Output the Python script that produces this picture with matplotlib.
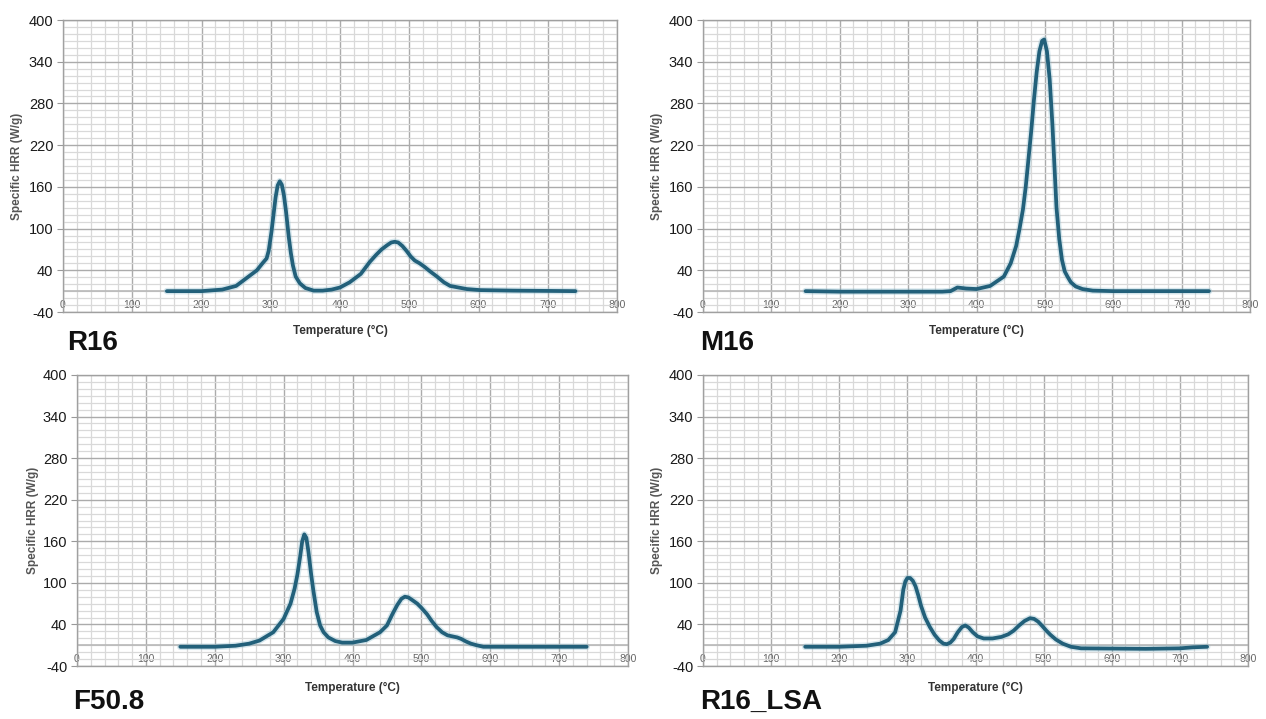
import numpy as np
import matplotlib
matplotlib.use("Agg")
import matplotlib.pyplot as plt
from matplotlib.ticker import FixedLocator, NullFormatter

plt.rcParams['font.family'] = ['Liberation Sans', 'DejaVu Sans']

# --- data: specific heat release rate (W/g) versus temperature (°C) ---
r16_temp = [150, 200, 230, 250, 270, 280, 288, 294, 297, 301, 304, 307, 310, 313,
            316, 319, 322, 326, 329, 332, 336, 342, 350, 362, 375, 388, 400, 414,
            430, 443, 452, 460, 468, 474, 479, 484, 490, 496, 502, 508, 515, 522,
            530, 540, 550, 559, 583, 602, 650, 740]
r16_hrr = [0, 0, 3, 10, 30, 40, 50, 57, 68, 95, 120, 145, 162, 168,
           163, 148, 125, 88, 65, 47, 28, 15, 6, 1, 1, 3, 7, 17,
           33, 52, 62, 70, 76, 80, 81, 80, 75, 68, 60, 54, 50, 45,
           38, 28, 17, 10, 4, 2, 1, 0]

m16_temp = [150, 200, 250, 300, 350, 362, 372, 385, 400, 420, 440, 450, 458, 463,
            468, 472, 476, 480, 484, 488, 492, 496, 499, 503, 507, 511, 514, 517,
            521, 525, 529, 533, 538, 545, 555, 570, 600, 740]
m16_hrr = [0, -1, -1, -1, -1, 0, 7, 5, 4, 10, 28, 50, 75, 100,
           128, 160, 200, 240, 285, 325, 355, 370, 372, 355, 315, 250, 190, 130,
           85, 55, 38, 28, 17, 9, 4, 1, 0, 0]

f508_temp = [150, 200, 230, 250, 265, 285, 300, 310, 316, 320, 324, 327, 330, 333,
             336, 340, 343, 348, 353, 358, 365, 375, 385, 400, 420, 440, 450, 458,
             465, 471, 476, 481, 487, 494, 500, 508, 515, 522, 530, 538, 545, 552,
             558, 565, 572, 580, 590, 740]
f508_hrr = [-3, -3, -1, 3, 9, 25, 48, 70, 92, 112, 138, 160, 170, 165,
            145, 112, 90, 58, 38, 25, 15, 8, 5, 5, 10, 25, 38, 55,
            68, 77, 80, 79, 75, 70, 64, 55, 45, 35, 25, 19, 17, 15,
            12, 7, 3, 0, -3, -3]

lsa_temp = [150, 200, 240, 260, 272, 282, 290, 294, 297, 300, 304, 308, 312, 316,
            320, 326, 333, 340, 347, 353, 358, 363, 368, 374, 380, 385, 390, 396,
            403, 412, 425, 438, 448, 456, 464, 472, 480, 486, 492, 498, 504, 510,
            518, 528, 540, 555, 650, 700, 720, 740]
lsa_hrr = [-3, -3, -1, 3, 10, 25, 60, 90, 102, 107, 107, 103, 95, 82,
           67, 50, 35, 20, 9, 3, 2, 5, 12, 25, 35, 38, 34, 25,
           17, 13, 13, 16, 21, 28, 38, 45, 49, 48, 44, 37, 28, 20,
           11, 3, -3, -6, -7, -6, -4, -3]

panel_names = ["R16", "M16", "F50.8", "R16_LSA"]
x_ticks = [0, 100, 200, 300, 400, 500, 600, 700, 800]
y_ticks = [-40, 40, 100, 160, 220, 280, 340, 400]

series = [(r16_temp, r16_hrr), (m16_temp, m16_hrr),
          (f508_temp, f508_hrr), (lsa_temp, lsa_hrr)]

W, H = 1266, 719
fig = plt.figure(figsize=(W / 100, H / 100), dpi=100)
fig.patch.set_facecolor("white")


def px_box(left, right, top, bottom):
    return [left / W, 1 - bottom / H, (right - left) / W, (bottom - top) / H]


# the value axis is compressed below 40 so every labelled band has equal height
def fwd(y):
    y = np.asarray(y, dtype=float)
    return np.where(y >= 40, y, 40 - (40 - y) * 0.75)


def inv(u):
    u = np.asarray(u, dtype=float)
    return np.where(u >= 40, u, 40 - (40 - u) / 0.75)


boxes = [px_box(63, 617, 20, 312), px_box(703, 1250, 20, 312),
         px_box(77, 628, 375, 666), px_box(703, 1248, 375, 666)]
name_pos = [(67, 343), (700, 343), (73, 702), (700, 702)]
ylabel_x = [17, 657, 33, 657]
xlabel_y = [331, 331, 688, 688]

line_color = "#22607a"
major_grid = "#ababab"
minor_grid = "#d9d9d9"

minor_y = list(np.arange(40, 400, 10)) + list(np.linspace(-40, 40, 7))
minor_x = list(np.arange(0, 801, 20))

for i, (ax_box, (tx, hy)) in enumerate(zip(boxes, series)):
    ax = fig.add_axes(ax_box)
    ax.set_yscale("function", functions=(fwd, inv))
    ax.set_xlim(0, 800)
    ax.set_ylim(-40, 400)

    ax.xaxis.set_major_locator(FixedLocator(x_ticks))
    ax.yaxis.set_major_locator(FixedLocator(y_ticks))
    ax.xaxis.set_minor_locator(FixedLocator(minor_x))
    ax.yaxis.set_minor_locator(FixedLocator(minor_y))
    ax.yaxis.set_minor_formatter(NullFormatter())
    ax.xaxis.set_minor_formatter(NullFormatter())
    ax.set_xticklabels([str(v) for v in x_ticks])
    ax.set_yticklabels([str(v) for v in y_ticks])

    ax.grid(which="minor", color=minor_grid, linewidth=0.9)
    ax.grid(which="major", color=major_grid, linewidth=1.0)
    ax.axhline(0, color="#b8b8b8", linewidth=1.2, zorder=1)
    ax.set_axisbelow(True)

    ax.tick_params(axis="y", which="major", length=4, color="#999999",
                   labelsize=10.5, labelcolor="#1a1a1a", pad=3)
    ax.tick_params(axis="x", which="major", length=0, labelsize=7.5,
                   labelcolor="#666666", pad=-8.5)
    ax.tick_params(which="minor", length=0)

    for sp in ax.spines.values():
        sp.set_color("#a0a0a0")
        sp.set_linewidth(1.0)

    ax.plot(tx, hy, color="#8dbbcc", linewidth=4.8, alpha=0.35,
            solid_joinstyle="round", solid_capstyle="round", zorder=3)
    ax.plot(tx, hy, color=line_color, linewidth=2.7,
            solid_joinstyle="round", solid_capstyle="round", zorder=4)

    cx = ax_box[0] + ax_box[2] / 2
    fig.text(cx, 1 - xlabel_y[i] / H, "Temperature (°C)", ha="center",
             va="center", fontsize=8.5, fontweight="bold", color="#333333")
    fig.text(ylabel_x[i] / W, ax_box[1] + ax_box[3] / 2, "Specific HRR (W/g)",
             rotation=90, ha="center", va="center", fontsize=8.5,
             fontweight="bold", color="#555555")
    fig.text(name_pos[i][0] / W, 1 - name_pos[i][1] / H, panel_names[i],
             ha="left", va="center", fontsize=20, fontweight="bold",
             color="#111111")

fig.savefig("out.png", dpi=100, facecolor="white")
